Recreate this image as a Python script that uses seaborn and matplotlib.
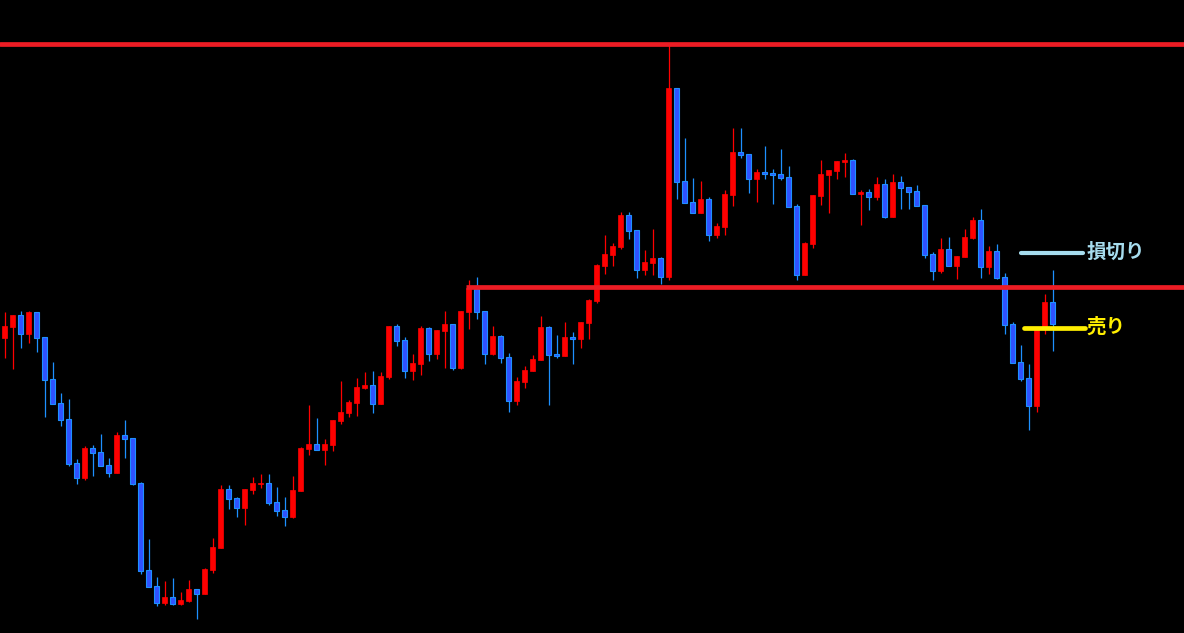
import matplotlib
matplotlib.use("Agg")
import matplotlib.pyplot as plt
import seaborn as sns
import numpy as np
import pandas as pd

# ---- data (price units) ----
opens = [295, 306, 318, 299, 321, 296, 254, 230, 214, 170, 155, 185, 181, 168, 160, 198, 195, 150, 63, 47,
         30, 36, 29, 32, 44, 39, 63, 85, 144, 135, 125, 143, 149, 150, 131, 123, 116, 142, 184, 189,
         183, 188, 212, 220, 230, 245, 248, 229, 256, 307, 293, 262, 269, 305, 279, 302, 309, 265, 321, 344,
         322, 279, 297, 276, 232, 251, 262, 273, 306, 279, 277, 296, 294, 310, 332, 367, 378, 386, 418, 403,
         363, 370, 375, 356, 545, 452, 431, 420, 434, 398, 406, 438, 481, 479, 454, 461, 460, 459, 456, 427,
         358, 389, 437, 458, 462, 471, 473, 439, 441, 436, 449, 416, 451, 446, 442, 428, 379, 362, 384, 367,
         376, 395, 413, 366, 382, 356, 309, 271, 255, 227, 306, 331]
highs = [321, 318, 322, 322, 321, 296, 271, 240, 234, 174, 187, 188, 199, 175, 201, 213, 195, 151, 94, 56,
         52, 55, 41, 53, 44, 65, 95, 148, 148, 136, 144, 156, 159, 159, 146, 136, 157, 186, 228, 215,
         194, 213, 252, 233, 255, 261, 262, 261, 307, 309, 296, 279, 307, 306, 303, 322, 309, 322, 353, 356,
         322, 307, 298, 280, 256, 267, 278, 317, 307, 298, 311, 301, 311, 334, 369, 398, 390, 421, 421, 403,
         383, 404, 376, 590, 545, 495, 455, 452, 436, 410, 443, 505, 505, 479, 464, 487, 464, 484, 467, 429,
         391, 438, 473, 463, 472, 480, 474, 443, 444, 456, 454, 459, 457, 446, 448, 428, 381, 395, 396, 377,
         404, 416, 424, 387, 389, 360, 311, 288, 269, 306, 339, 363]
lows = [275, 264, 285, 290, 281, 216, 229, 207, 167, 149, 153, 157, 167, 156, 160, 175, 148, 59, 46, 27,
        28, 28, 28, 31, 14, 39, 60, 85, 124, 116, 108, 139, 145, 128, 117, 107, 115, 142, 178, 183,
        168, 182, 209, 216, 217, 244, 220, 229, 254, 287, 255, 253, 258, 272, 274, 265, 263, 264, 304, 314,
        269, 278, 270, 221, 228, 245, 262, 273, 228, 275, 277, 269, 285, 294, 330, 359, 367, 384, 394, 355,
        358, 358, 349, 353, 434, 430, 420, 420, 392, 395, 398, 427, 475, 440, 431, 454, 429, 453, 426, 353,
        358, 385, 428, 420, 454, 456, 439, 408, 423, 433, 415, 416, 424, 424, 427, 375, 353, 360, 367, 354,
        376, 394, 355, 359, 354, 299, 270, 252, 203, 221, 299, 282]
closes = [307, 318, 299, 321, 295, 253, 229, 213, 169, 155, 185, 180, 167, 160, 198, 194, 149, 62, 46, 30,
          36, 29, 33, 44, 39, 64, 86, 144, 134, 125, 144, 150, 150, 130, 122, 116, 143, 185, 189, 183,
          189, 213, 221, 231, 246, 248, 229, 257, 307, 292, 262, 270, 305, 279, 303, 309, 265, 322, 345, 321,
          279, 297, 275, 232, 252, 263, 274, 306, 278, 277, 296, 294, 311, 333, 368, 379, 387, 418, 402, 363,
          371, 375, 356, 545, 451, 430, 420, 434, 398, 407, 439, 481, 478, 454, 461, 459, 458, 455, 426, 358,
          390, 438, 459, 463, 472, 473, 439, 441, 436, 449, 416, 451, 445, 441, 427, 378, 362, 384, 367, 377,
          396, 413, 366, 382, 355, 308, 270, 254, 227, 306, 331, 309]

top_level = 589.5          # upper red horizontal line
neck_level = 346.5         # middle red horizontal line
neck_start = 58            # candle index where the middle line starts
stop_level = 380.5         # 損切り
entry_level = 305.5        # 売り
labels = ["損切り", "売り"]

df = pd.DataFrame({"open": opens, "high": highs, "low": lows, "close": closes})
df["idx"] = np.arange(len(df))
df["up"] = df["close"] >= df["open"]

# ---- style ----
sns.set_style("dark", {"axes.facecolor": "black", "figure.facecolor": "black"})
plt.rcParams["font.family"] = ["Noto Sans CJK JP", "DejaVu Sans"]

W, H = 1184, 633
fig = plt.figure(figsize=(W / 100, H / 100), dpi=100)
fig.patch.set_facecolor("black")
ax = fig.add_axes([0, 0, 1, 1])
ax.set_facecolor("black")

UP = "#ff0000"
DN_FILL = "#2f52ff"
DN_EDGE = "#1e90ff"

# wicks
for up, col in [(True, UP), (False, DN_EDGE)]:
    d = df[df["up"] == up]
    ax.vlines(d["idx"], d["low"], d["high"], color=col, linewidth=0.9, zorder=2)

# bodies
bottoms = np.minimum(df["open"], df["close"])
heights = np.maximum(np.abs(df["close"] - df["open"]), 1.2)
upm = df["up"].values
ax.bar(df["idx"][upm], heights[upm], bottom=bottoms[upm], width=0.6,
       color=UP, edgecolor=UP, linewidth=0.5, zorder=3)
ax.bar(df["idx"][~upm], heights[~upm], bottom=bottoms[~upm], width=0.6,
       color=DN_FILL, edgecolor=DN_EDGE, linewidth=0.8, zorder=3)

# horizontal levels
LINE_RED = "#ec1c24"
ax.axhline(top_level, color=LINE_RED, linewidth=3.4, zorder=4)
n = len(df)
ax.plot([neck_start - 0.3, 200], [neck_level, neck_level], color=LINE_RED,
        linewidth=3.4, zorder=4, solid_capstyle="butt")

LB = "#a6dcee"
YL = "#ffee00"
ax.plot([n - 4.95, n + 2.75], [stop_level, stop_level], color=LB, linewidth=3.0,
        solid_capstyle="round", zorder=5)
ax.plot([n - 4.6, n + 3.0], [entry_level, entry_level], color=YL, linewidth=3.4,
        solid_capstyle="round", zorder=5)
ax.text(n + 3.2, stop_level, labels[0], color=LB, fontsize=14, fontweight="bold",
        ha="left", va="center", zorder=6)
ax.text(n + 3.2, entry_level, labels[1], color=YL, fontsize=14, fontweight="bold",
        ha="left", va="center", zorder=6)

ax.set_xlim(-0.5625, -0.5625 + W / 8)
ax.set_ylim(0, H)
ax.set_xticks([])
ax.set_yticks([])
for s in ax.spines.values():
    s.set_visible(False)

fig.savefig("out.png", dpi=100, facecolor="black")
